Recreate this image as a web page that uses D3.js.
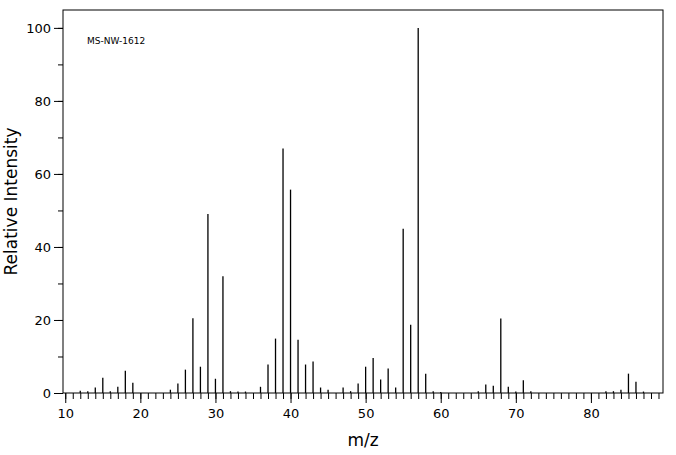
<!DOCTYPE html><html><head><script src="https://cdn.jsdelivr.net/npm/d3@7"></script>
<style>body{margin:0;background:#fff}text{font-family:"DejaVu Sans",sans-serif}</style></head><body><svg id="c" width="676" height="455"></svg>
<script>
const mz =   [12,13,14,15,16,17,18,19,24,25,26,27,28,29,30,31,32,33,34,36,37,38,39,40,41,42,43,44,45,47,48,49,50,51,52,53,54,55,56,57,58,59,60,65,66,67,68,69,70,71,72,82,83,84,85,86,87];
const inten=[0.6,0.5,1.5,4.2,0.5,1.7,6.1,2.8,0.9,2.6,6.4,20.5,7.2,49,3.9,32,0.5,0.4,0.4,1.7,7.8,14.9,67,55.7,14.6,7.8,8.6,1.5,0.9,1.5,0.5,2.6,7.2,9.6,3.7,6.7,1.5,45,18.7,100,5.3,0.5,0.3,0.5,2.3,2.0,20.4,1.7,0.4,3.5,0.5,0.5,0.5,0.9,5.3,3.1,0.4];
const xTicks=[10,20,30,40,50,60,70,80];
const yTicks=[0,20,40,60,80,100];
const svg=d3.select("#c");
const L=63,R=663,T=10,B=393;
const x=d3.scaleLinear().domain([9.7,89.6]).range([L,R]);
const y=d3.scaleLinear().domain([0,104.9]).range([B,T]);
svg.append("rect").attr("x",L).attr("y",T).attr("width",R-L).attr("height",B-T).attr("fill","none").attr("stroke","#000");
const gx=svg.append("g").attr("transform",`translate(0,${B})`);
gx.call(d3.axisBottom(x).tickValues(d3.range(10,90,1)).tickSize(6).tickFormat(""));
gx.call(g=>g.select(".domain").remove());
const gx2=svg.append("g").attr("transform",`translate(0,${B})`).call(d3.axisBottom(x).tickValues(xTicks).tickSize(10).tickFormat(d3.format("d")));
gx2.select(".domain").remove();gx2.selectAll("text").attr("font-size",13).attr("dy","0.9em");
const gy=svg.append("g").attr("transform",`translate(${L},0)`).call(d3.axisLeft(y).tickValues(d3.range(0,101,10)).tickSize(5).tickFormat(""));
gy.select(".domain").remove();
const gy2=svg.append("g").attr("transform",`translate(${L},0)`).call(d3.axisLeft(y).tickValues(yTicks).tickSize(9).tickFormat(d3.format("d")));
gy2.select(".domain").remove();gy2.selectAll("text").attr("font-size",13);
svg.selectAll("line.pk").data(mz).join("line").attr("class","pk")
 .attr("x1",d=>x(d)).attr("x2",d=>x(d)).attr("y1",B).attr("y2",(d,i)=>y(inten[i])).attr("stroke","#000").attr("stroke-width",1.3);
svg.append("text").attr("x",87).attr("y",44).attr("font-size",9).text("MS-NW-1612");
svg.append("text").attr("x",(L+R)/2).attr("y",446).attr("text-anchor","middle").attr("font-size",17).text("m/z");
svg.append("text").attr("transform",`translate(17,${(T+B)/2}) rotate(-90)`).attr("text-anchor","middle").attr("font-size",17).text("Relative Intensity");
</script></body></html>
